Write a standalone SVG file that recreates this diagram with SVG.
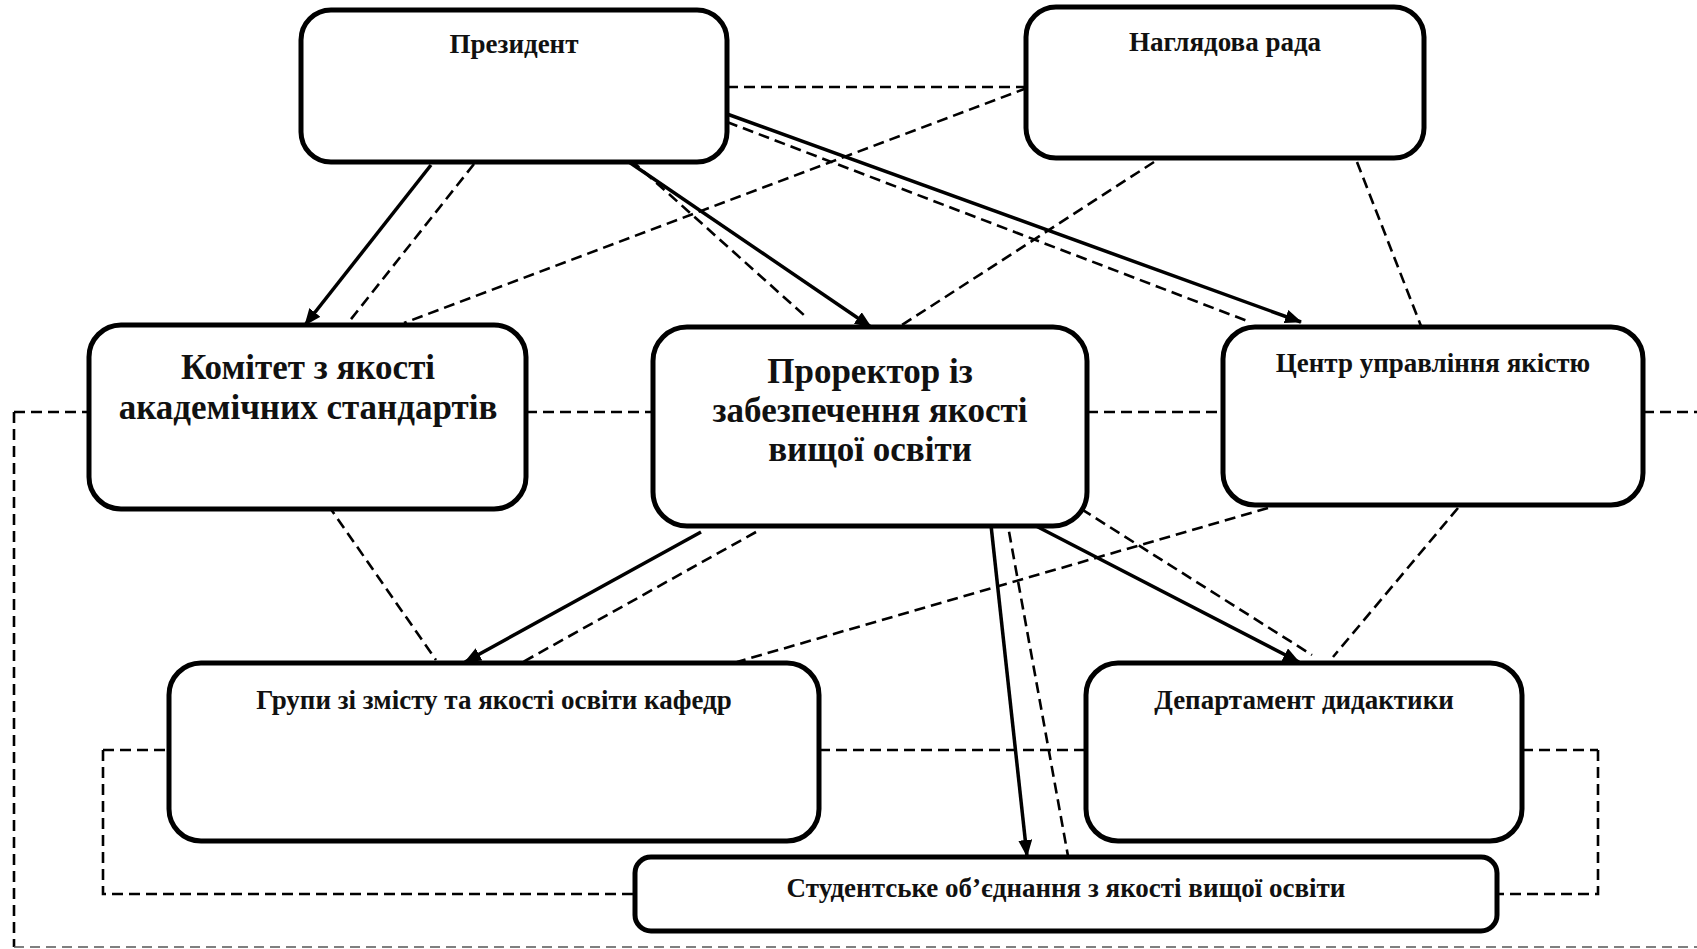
<svg xmlns="http://www.w3.org/2000/svg" width="1697" height="949" viewBox="0 0 1697 949">
<style>
.box{fill:#fff;stroke:#000;stroke-width:5}
.t{font-family:"Liberation Serif","Times New Roman",serif;font-weight:bold;fill:#111;text-anchor:middle}
.s{font-size:27px}
.b{font-size:35px}
.solid{stroke:#000;stroke-width:3.5;fill:none}
.dash{stroke:#000;stroke-width:2.6;fill:none;stroke-dasharray:11 6}
.thin{stroke:#555;stroke-width:1.6;fill:none;stroke-dasharray:10 6}
</style>
<defs>
<marker id="arr" markerUnits="userSpaceOnUse" markerWidth="18" markerHeight="14" refX="16" refY="7" orient="auto">
<path d="M0,0 L17,7 L0,14 z" fill="#000"/>
</marker>
</defs>
<rect width="1697" height="949" fill="#fff"/>
<g id="connectors">
<path class="dash" d="M727,87 L1026,87"/>
<path class="dash" d="M474,164 L348,323"/>
<path class="dash" d="M631,160 L805,316"/>
<path class="dash" d="M727,122 L1250,322"/>
<path class="dash" d="M1027,88 L404,323"/>
<path class="dash" d="M1154,162 L902,325"/>
<path class="dash" d="M1357,162 L1421,326"/>
<path class="dash" d="M328,505 L436,660"/>
<path class="dash" d="M756,532 L523,662"/>
<path class="dash" d="M1268,508 L737,662"/>
<path class="dash" d="M1067,500 L1312,655"/>
<path class="dash" d="M1458,508 L1333,657"/>
<path class="dash" d="M1006,515 L1068,856"/>
<path class="dash" d="M14,412 L89,412 M526,412 L653,412 M1087,412 L1223,412 M1643,412 L1697,412"/>
<path class="dash" d="M14,412 L14,947"/>
<path class="thin" d="M14,947 L1697,947"/>
<path class="dash" d="M103,750 L169,750 M819,750 L1086,750 M1522,750 L1598,750 M103,750 L103,894 L635,894 M1598,750 L1598,894 L1497,894"/>
<path class="solid" marker-end="url(#arr)" d="M431,165 L305,325"/>
<path class="solid" marker-end="url(#arr)" d="M626,160 L871,327"/>
<path class="solid" marker-end="url(#arr)" d="M727,114 L1301,322"/>
<path class="solid" marker-end="url(#arr)" d="M701,532 L465,662"/>
<path class="solid" marker-end="url(#arr)" d="M1036,526 L1299,662"/>
<path class="solid" marker-end="url(#arr)" d="M990,516 L1027,856"/>
</g>
<g id="president">
<rect class="box" x="301" y="10" width="426" height="152" rx="30"/>
<text class="t s" x="514" y="53">Президент</text>
</g>
<g id="naglyadova">
<rect class="box" x="1026" y="7" width="398" height="151" rx="30"/>
<text class="t s" x="1225" y="51">Наглядова рада</text>
</g>
<g id="komitet">
<rect class="box" x="89" y="325" width="437" height="184" rx="32"/>
<text class="t b" x="308" y="379">Комітет з якості</text>
<text class="t b" x="308" y="419">академічних стандартів</text>
</g>
<g id="prorector">
<rect class="box" x="653" y="327" width="434" height="199" rx="34"/>
<text class="t b" x="870" y="383">Проректор із</text>
<text class="t b" x="870" y="422">забезпечення якості</text>
<text class="t b" x="870" y="461">вищої освіти</text>
</g>
<g id="centr">
<rect class="box" x="1223" y="327" width="420" height="178" rx="32"/>
<text class="t s" x="1433" y="372">Центр управління якістю</text>
</g>
<g id="hrupy">
<rect class="box" x="169" y="663" width="650" height="178" rx="32"/>
<text class="t s" x="494" y="709">Групи зі змісту та якості освіти кафедр</text>
</g>
<g id="departament">
<rect class="box" x="1086" y="663" width="436" height="178" rx="32"/>
<text class="t s" x="1304" y="709">Департамент дидактики</text>
</g>
<g id="student">
<rect class="box" x="635" y="857" width="862" height="74" rx="16"/>
<text class="t s" x="1066" y="897">Студентське об’єднання з якості вищої освіти</text>
</g>
</svg>
